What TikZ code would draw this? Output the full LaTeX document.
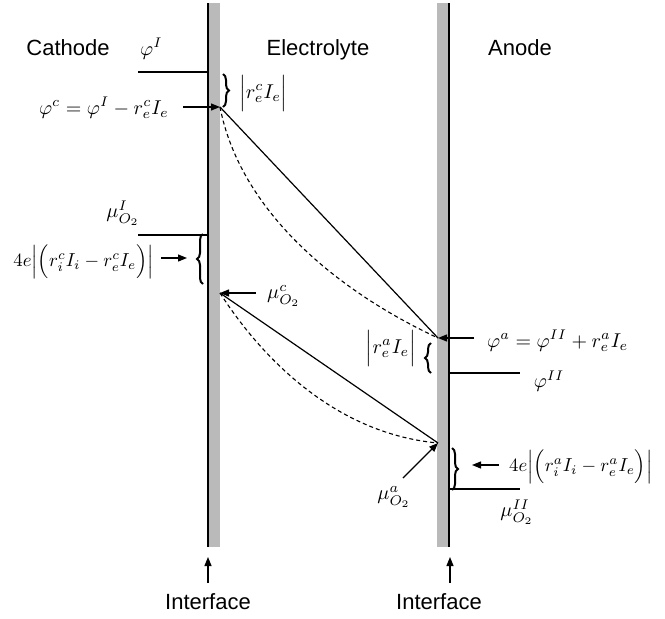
\documentclass[tikz,border=0pt]{standalone}
\usepackage{graphicx}
\usepackage{fontspec}
\setsansfont{Liberation Sans}
\usetikzlibrary{arrows.meta,decorations.pathreplacing}
\newcommand{\mymath}[2][2.0]{\scalebox{#1}{$#2$}}
\begin{document}
\begin{tikzpicture}[x=1pt,y=-1pt,
  lbl/.style={font=\fontsize{22}{24}\selectfont\sffamily, inner sep=0pt},
  mth/.style={font=\fontsize{10}{12}\selectfont, inner sep=0pt},
  conn/.style={line width=1.2pt},
  dsh/.style={line width=1.1pt, dash pattern=on 4pt off 3pt},
  arr/.style={line width=1.2pt, -{Triangle[length=9pt,width=7pt]}},
  brc/.style={decorate, decoration={brace, amplitude=6pt}, line width=2pt},
  wallfill/.style={fill=black!27, draw=none},
  wallline/.style={line width=1.6pt}]
\useasboundingbox (0,0) rectangle (665,619);
% walls
\fill[wallfill] (209,3) rectangle (220,547);
\draw[wallline] (208,3) -- (208,547);
\fill[wallfill] (437,3) rectangle (448,547);
\draw[wallline] (449,3) -- (449,547);
% headers
\node[lbl, anchor=base] (cath) at (68,55) {Cathode};
\node[lbl, anchor=base] (elec) at (318,55) {Electrolyte};
\node[lbl, anchor=base] (anod) at (520,55) {Anode};
% key points
\coordinate (pc) at (220,107);
\coordinate (pa) at (438,338);
\coordinate (mc) at (220,293);
\coordinate (ma) at (438,443);
% cathode potential
\node[mth, anchor=base west] (phiI) at (140,55) {\mymath{\varphi^I}};
\coordinate (phiIa) at (138,72);
\coordinate (phiIb) at (208,72);
\draw[conn] (phiIa) -- (phiIb);
\draw[brc] (223,74) -- (223,107);
\node[mth, anchor=west] (rec) at (239,93) {\mymath{\Bigl|r_e^cI_e\Bigr|}};
\node[mth, anchor=base east] (phic) at (169,114) {\mymath{\varphi^c=\varphi^I-r_e^cI_e}};
\coordinate (phict) at (183,107);
\draw[arr] (phict) -- (pc);
% cathode chemical potential
\node[mth] (muI) at (123,213) {\mymath{\mu_{O_2}^I}};
\coordinate (muIa) at (138,235);
\coordinate (muIb) at (208,235);
\draw[conn] (muIa) -- (muIb);
\draw[brc] (203,284) -- (203,234);
\coordinate (ccat) at (161,258);
\coordinate (ccah) at (187,258);
\draw[arr] (ccat) -- (ccah);
\node[mth, anchor=east] (cc) at (154,262) {\mymath[1.88]{4e\Bigl|\Bigl(r_i^cI_i-r_e^cI_e\Bigr)\Bigr|}};
\coordinate (mct) at (256,293);
\draw[arr] (mct) -- (mc);
\node[mth, anchor=west] (muc) at (267,296) {\mymath{\mu_{O_2}^c}};
% potential profiles
\draw[conn] (pc) -- (pa);
\draw[dsh] (pc) .. controls (240,210) and (335,290) .. (pa);
\draw[conn] (mc) -- (ma);
\draw[dsh] (mc) .. controls (245,332) and (318,432) .. (ma);
% anode potential
\coordinate (phiat) at (474,338);
\draw[arr] (phiat) -- (pa);
\node[mth, anchor=base west] (phia) at (487,347) {\mymath{\varphi^a=\varphi^{II}+r_e^aI_e}};
\node[mth, anchor=east] (rea) at (416,348) {\mymath{\Bigl|r_e^aI_e\Bigr|}};
\draw[brc] (431,373) -- (431,343);
\coordinate (phiIIa) at (449,373);
\coordinate (phiIIb) at (520,373);
\draw[conn] (phiIIa) -- (phiIIb);
\node[mth] (phiII) at (549,381) {\mymath{\varphi^{II}}};
% anode chemical potential
\coordinate (mat) at (403,478);
\draw[arr] (mat) -- (ma);
\node[mth] (mua) at (394,497) {\mymath{\mu_{O_2}^a}};
\draw[brc] (452,448) -- (452,490);
\coordinate (caat) at (499,465);
\coordinate (caah) at (472,465);
\draw[arr] (caat) -- (caah);
\node[mth, anchor=west] (ca) at (509,467) {\mymath[1.88]{4e\Bigl|\Bigl(r_i^aI_i-r_e^aI_e\Bigr)\Bigr|}};
\coordinate (muIIa) at (450,489);
\coordinate (muIIb) at (520,489);
\draw[conn] (muIIa) -- (muIIb);
\node[mth] (muII) at (517,512) {\mymath{\mu_{O_2}^{II}}};
% interfaces
\coordinate (i1t) at (208,583);
\coordinate (i1h) at (208,557);
\draw[arr] (i1t) -- (i1h);
\node[lbl, anchor=base] (if1) at (208,609) {Interface};
\coordinate (i2t) at (450,583);
\coordinate (i2h) at (450,557);
\draw[arr] (i2t) -- (i2h);
\node[lbl, anchor=base] (if2) at (439,609) {Interface};
\end{tikzpicture}
\end{document}
